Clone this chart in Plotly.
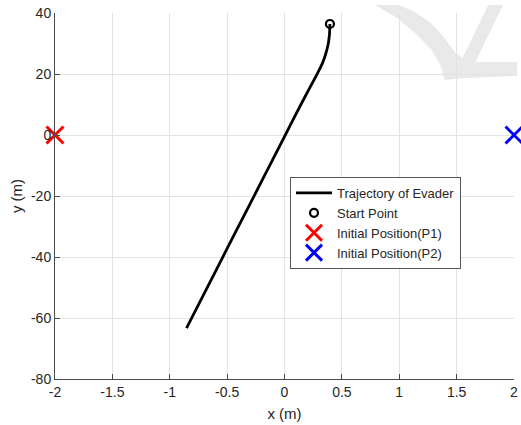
import plotly.graph_objects as go

# ---- data ----
traj_x = [0.396, 0.394, 0.392, 0.387, 0.382, 0.374, 0.366, 0.350, 0.330,
          0.298, 0.255, 0.15, 0.0, -0.2, -0.4, -0.6, -0.854]
traj_y = [36.4, 34.7, 33.0, 31.4, 30.0, 28.7, 27.5, 25.5, 23.5,
          21.0, 17.9, 10.5, -0.5, -15.2, -29.9, -44.6, -63.3]
start_x = [traj_x[0]]
start_y = [traj_y[0]]
p1_x = [-2]
p1_y = [0]
p2_x = [2]
p2_y = [0]

x_ticks = [-2, -1.5, -1, -0.5, 0, 0.5, 1, 1.5, 2]
x_tick_text = ["-2", "-1.5", "-1", "-0.5", "0", "0.5", "1", "1.5", "2"]
y_ticks = [-80, -60, -40, -20, 0, 20, 40]
y_tick_text = ["-80", "-60", "-40", "-20", "0", "20", "40"]

FONT = "Liberation Sans, Arial, sans-serif"
TXT = "#262626"

fig = go.Figure()
fig.add_trace(go.Scatter(x=traj_x, y=traj_y, mode="lines", name="Trajectory of Evader",
                         line=dict(color="black", width=2.8, shape="spline", smoothing=0.5),
                         cliponaxis=False))
fig.add_trace(go.Scatter(x=start_x, y=start_y, mode="markers", name="Start Point",
                         marker=dict(symbol="circle-open", size=8, color="black",
                                     line=dict(width=2.2, color="black")),
                         cliponaxis=False))
fig.add_trace(go.Scatter(x=p1_x, y=p1_y, mode="markers", name="Initial Position(P1)",
                         marker=dict(symbol="x-thin-open", size=17, color="red",
                                     line=dict(width=3, color="red")),
                         cliponaxis=False))
fig.add_trace(go.Scatter(x=p2_x, y=p2_y, mode="markers", name="Initial Position(P2)",
                         marker=dict(symbol="x-thin-open", size=17, color="blue",
                                     line=dict(width=3, color="blue")),
                         cliponaxis=False))

# faint watermark (decoration), outline given in page pixels -> paper coords
L, R, T, B = 55, 518, 13, 379
def px(x, y):
    return f"{(x - L) / (R - L):.4f},{(B - y) / (B - T):.4f}"

wm_pts = [(378, 5), (400, 18), (418, 33), (435, 50), (444, 66), (448, 80),
          (470, 78), (495, 77), (521, 76), (521, 62), (495, 62), (479, 62),
          (507, 5), (492, 5), (466, 58), (458, 52), (448, 38), (434, 23),
          (418, 12), (402, 5)]
wm_path = "M " + " L ".join(px(a, b) for a, b in wm_pts) + " Z"
fig.add_shape(type="path", path=wm_path, xref="paper", yref="paper",
              fillcolor="#e9e9e9", line=dict(width=0), layer="below")

axis_common = dict(showgrid=True, gridcolor="#e3e3e3", gridwidth=1,
                   zeroline=False, showline=True, linecolor="#4a4a4a", linewidth=1,
                   ticks="inside", ticklen=5, tickcolor="#4a4a4a", mirror=False,
                   ticklabeloverflow="allow",
                   tickfont=dict(family=FONT, size=14, color=TXT))

fig.update_xaxes(range=[-2, 2], tickvals=x_ticks, ticktext=x_tick_text,
                 title=dict(text="x (m)", font=dict(family=FONT, size=15, color=TXT),
                            standoff=9),
                 **axis_common)
fig.update_yaxes(range=[-80, 40], tickvals=y_ticks, ticktext=y_tick_text,
                 title=dict(text="y (m)", font=dict(family=FONT, size=15, color=TXT),
                            standoff=4),
                 **axis_common)

fig.update_layout(
    width=521, height=425,
    margin=dict(l=55, r=3, t=13, b=46),
    paper_bgcolor="white", plot_bgcolor="white",
    font=dict(family=FONT, color=TXT),
    legend=dict(x=0.512, y=0.552, xanchor="left", yanchor="top",
                bgcolor="white", bordercolor="#555555", borderwidth=1,
                font=dict(family=FONT, size=13, color=TXT),
                tracegroupgap=0, itemwidth=36),
    showlegend=True,
)

fig.write_html("out.html")
